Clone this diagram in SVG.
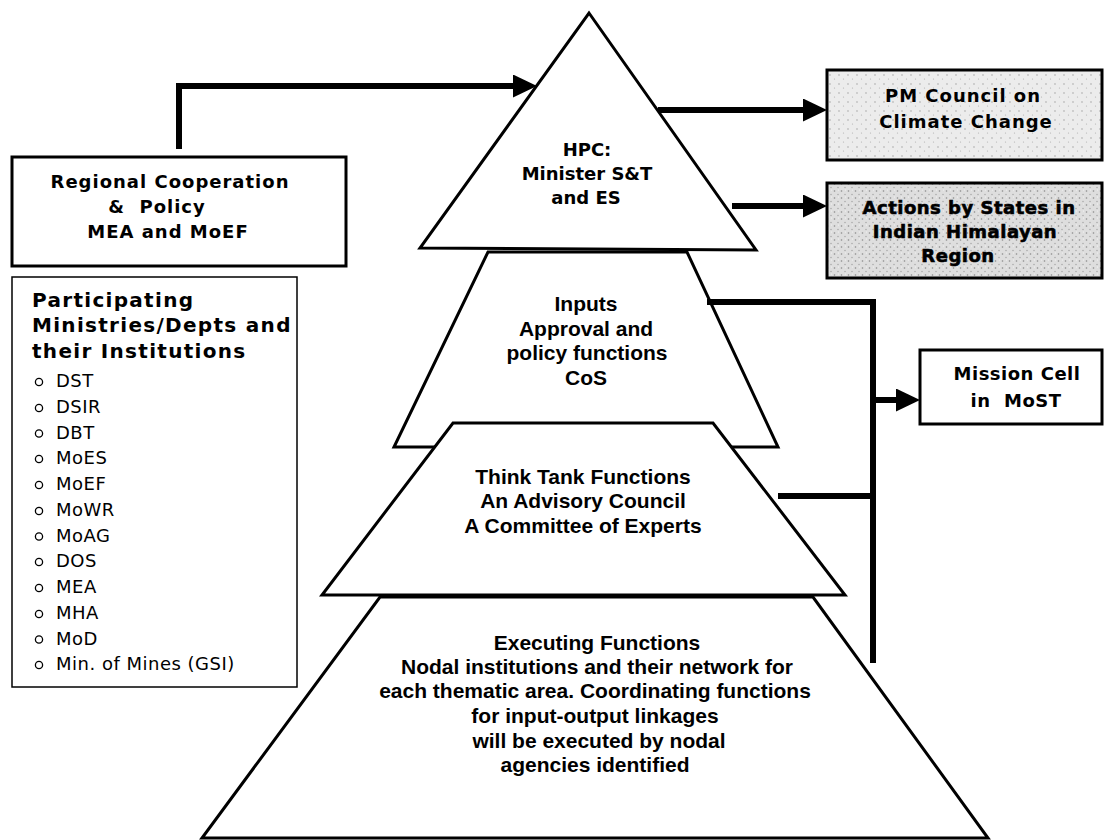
<svg xmlns="http://www.w3.org/2000/svg" width="1104" height="840" viewBox="0 0 1104 840">
<style>
.tier{fill:#fff;stroke:#000;stroke-width:3;stroke-linejoin:miter}
.box{stroke:#000;stroke-width:3}
.thin{fill:#fff;stroke:#000;stroke-width:1.5}
.conn{fill:none;stroke:#000;stroke-width:6;stroke-linejoin:miter;stroke-linecap:butt}
.ar{font-family:"Liberation Sans",Arial,sans-serif;font-weight:bold;font-size:21px;text-anchor:middle;fill:#000}
.vb{font-family:"DejaVu Sans",Verdana,sans-serif;font-weight:bold;font-size:18px;text-anchor:middle;fill:#000}
.hv{font-family:"DejaVu Sans",Verdana,sans-serif;font-weight:bold;font-size:18px;text-anchor:middle;fill:#000;stroke:#000;stroke-width:0.6;letter-spacing:0.5px}
.head{font-family:"DejaVu Sans",Verdana,sans-serif;font-weight:bold;font-size:20px;letter-spacing:1.3px;fill:#000}
.li{font-family:"DejaVu Sans",Verdana,sans-serif;font-size:18px;letter-spacing:0.5px;fill:#000}
.bul{fill:none;stroke:#000;stroke-width:1.3}
</style>
<defs>
<marker id="ah" markerUnits="userSpaceOnUse" markerWidth="24" markerHeight="24" refX="4" refY="11.5" orient="auto">
<path d="M0,0 L24,11.5 L0,23 Z" fill="#000"/>
</marker>
<pattern id="speckA" width="9" height="9" patternUnits="userSpaceOnUse">
<rect width="9" height="9" fill="#ececec"/>
<circle cx="2" cy="3" r="0.7" fill="#9a9a9a"/>
<circle cx="6.5" cy="7" r="0.6" fill="#b0b0b0"/>
</pattern>
<pattern id="speckB" width="7" height="7" patternUnits="userSpaceOnUse">
<rect width="7" height="7" fill="#dedede"/>
<circle cx="1.5" cy="2" r="0.8" fill="#8a8a8a"/>
<circle cx="5" cy="5.5" r="0.7" fill="#a0a0a0"/>
<circle cx="5.5" cy="1" r="0.5" fill="#f8f8f8"/>
</pattern>
</defs>

<g id="tier-executing">
<polygon class="tier" points="380,597 813,597 988,838 202,838"/>
<text class="ar" x="597" y="650">Executing Functions</text>
<text class="ar" x="597" y="674">Nodal institutions and their network for</text>
<text class="ar" x="595" y="698">each thematic area. Coordinating functions</text>
<text class="ar" x="595" y="723">for input-output linkages</text>
<text class="ar" x="599" y="748">will be executed by nodal</text>
<text class="ar" x="595" y="772">agencies identified</text>
</g>

<g id="tier-inputs">
<polygon class="tier" points="488,252 687,252 778,447 394,447"/>
<text class="ar" x="586" y="311">Inputs</text>
<text class="ar" x="586" y="336">Approval and</text>
<text class="ar" x="587" y="360">policy functions</text>
<text class="ar" x="586" y="385">CoS</text>
</g>

<g id="tier-thinktank">
<polygon class="tier" points="453,423 713,423 845,595 322,595"/>
<text class="ar" x="583" y="484">Think Tank Functions</text>
<text class="ar" x="583" y="508">An Advisory Council</text>
<text class="ar" x="583" y="533">A Committee of Experts</text>
</g>

<g id="tier-hpc">
<polygon class="tier" points="589,13 756,250 420,248"/>
<text class="vb" x="587" y="156">HPC:</text>
<text class="vb" x="587" y="180">Minister S&amp;T</text>
<text class="vb" x="586" y="204">and ES</text>
</g>

<g id="regional">
<rect class="box" x="12" y="157" width="334" height="109" fill="#fff"/>
<text class="vb" x="170" y="188" style="letter-spacing:1px">Regional Cooperation</text>
<text class="vb" x="157" y="213" style="letter-spacing:1px" xml:space="preserve">&amp;  Policy</text>
<text class="vb" x="168" y="238" style="letter-spacing:1px">MEA and MoEF</text>
</g>

<g id="participating">
<rect class="thin" x="12" y="277" width="285" height="410"/>
<text class="head" x="32" y="307">Participating</text>
<text class="head" x="32" y="332">Ministries/Depts and</text>
<text class="head" x="32" y="358">their Institutions</text>
<circle class="bul" cx="39" cy="382" r="3.6"/>
<circle class="bul" cx="39" cy="408" r="3.6"/>
<circle class="bul" cx="39" cy="433.5" r="3.6"/>
<circle class="bul" cx="39" cy="459" r="3.6"/>
<circle class="bul" cx="39" cy="485" r="3.6"/>
<circle class="bul" cx="39" cy="511" r="3.6"/>
<circle class="bul" cx="39" cy="536.5" r="3.6"/>
<circle class="bul" cx="39" cy="562" r="3.6"/>
<circle class="bul" cx="39" cy="588" r="3.6"/>
<circle class="bul" cx="39" cy="614" r="3.6"/>
<circle class="bul" cx="39" cy="639.5" r="3.6"/>
<circle class="bul" cx="39" cy="665" r="3.6"/>
<text class="li" x="56" y="387">DST</text>
<text class="li" x="56" y="413">DSIR</text>
<text class="li" x="56" y="438.5">DBT</text>
<text class="li" x="56" y="464">MoES</text>
<text class="li" x="56" y="490">MoEF</text>
<text class="li" x="56" y="516">MoWR</text>
<text class="li" x="56" y="541.5">MoAG</text>
<text class="li" x="56" y="567">DOS</text>
<text class="li" x="56" y="593">MEA</text>
<text class="li" x="56" y="619">MHA</text>
<text class="li" x="56" y="644.5">MoD</text>
<text class="li" x="56" y="670">Min. of Mines (GSI)</text>
</g>

<g id="pm-council">
<rect class="box" x="827" y="70" width="275" height="90" fill="url(#speckA)"/>
<text class="vb" x="963" y="102" style="letter-spacing:1px">PM Council on</text>
<text class="vb" x="966" y="128" style="letter-spacing:1px">Climate Change</text>
</g>

<g id="actions-states">
<rect class="box" x="827" y="183" width="275" height="95" fill="url(#speckB)"/>
<text class="hv" x="969" y="214">Actions by States in</text>
<text class="hv" x="965" y="238">Indian Himalayan</text>
<text class="hv" x="958" y="262">Region</text>
</g>

<g id="mission-cell">
<rect class="box" x="920" y="350" width="182" height="74" fill="#fff"/>
<text class="vb" x="1017" y="380" style="letter-spacing:0.5px">Mission Cell</text>
<text class="vb" x="1016" y="407" style="letter-spacing:0.5px" xml:space="preserve">in  MoST</text>
</g>

<g id="connectors">
<path class="conn" d="M179,149 V86 H517" marker-end="url(#ah)"/>
<path class="conn" d="M658,110 H807" marker-end="url(#ah)"/>
<path class="conn" d="M732,206 H807" marker-end="url(#ah)"/>
<path class="conn" d="M707,302 H873 V663"/>
<path class="conn" d="M778,496 H873"/>
<path class="conn" d="M873,400 H900" marker-end="url(#ah)"/>
</g>
</svg>
